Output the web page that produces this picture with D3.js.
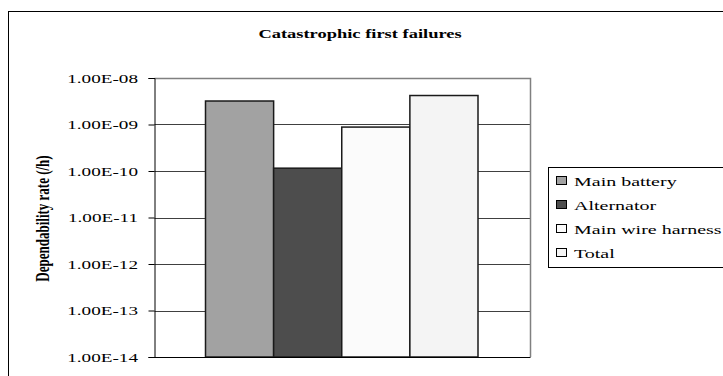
<!DOCTYPE html>
<html>
<head>
<meta charset="utf-8">
<script src="https://cdn.jsdelivr.net/npm/d3@7"></script>
<style>
  html, body { margin: 0; padding: 0; background: #fff; }
  svg { display: block; }
  text { font-family: "Liberation Serif", "Times New Roman", serif; fill: #000; }
</style>
</head>
<body>
<svg id="chart" width="723" height="376"></svg>
<script>
// Failure-rate data (per hour), one bar per contributor
const categories = ["Main battery", "Alternator", "Main wire harness", "Total"];
const rates = [3.2e-9, 1.15e-10, 8.8e-10, 4.2e-9];
const fills = ["#a2a2a2", "#4d4d4d", "#fbfbfb", "#f4f4f4"];
const tickValues = [1e-14, 1e-13, 1e-12, 1e-11, 1e-10, 1e-9, 1e-8];
const tickLabels = ["1.00E-14", "1.00E-13", "1.00E-12", "1.00E-11", "1.00E-10", "1.00E-09", "1.00E-08"];

// the exported chart renders its text horizontally widened
const stretch = 1.42;
const legendStretch = 1.48;

const svg = d3.select("#chart");

// chart frame
svg.append("rect")
  .attr("x", 8.5).attr("y", 11.5)
  .attr("width", 730).attr("height", 380)
  .attr("fill", "#fff").attr("stroke", "#000").attr("stroke-width", 1);

const plot = { left: 154.5, right: 530, top: 78, bottom: 357 };

const y = d3.scaleLog()
  .domain([1e-14, 1e-8])
  .range([plot.bottom, plot.top]);

const x = d3.scaleBand()
  .domain(categories)
  .range([plot.left + 51, plot.right - 52])
  .padding(0);

// title
svg.append("text")
  .attr("transform", `translate(360,38) scale(${stretch},1)`)
  .attr("text-anchor", "middle")
  .attr("font-size", 13).attr("font-weight", "bold")
  .text("Catastrophic first failures");

// horizontal gridlines
svg.append("g")
  .selectAll("line")
  .data(tickValues.slice(1))
  .join("line")
  .attr("x1", plot.left).attr("x2", plot.right)
  .attr("y1", d => Math.round(y(d)) + 0.5).attr("y2", d => Math.round(y(d)) + 0.5)
  .attr("stroke", "#404040").attr("stroke-width", 1);

// plot-area border (top and right)
svg.append("path")
  .attr("d", `M${plot.left},${plot.top + 0.5}H${plot.right + 0.5}V${plot.bottom}`)
  .attr("fill", "none").attr("stroke", "#808080").attr("stroke-width", 1.5);

// bars
svg.append("g")
  .selectAll("rect")
  .data(categories)
  .join("rect")
  .attr("x", d => x(d))
  .attr("y", (d, i) => y(rates[i]))
  .attr("width", x.bandwidth())
  .attr("height", (d, i) => plot.bottom - y(rates[i]))
  .attr("fill", (d, i) => fills[i])
  .attr("stroke", "#1a1a1a").attr("stroke-width", 1.5);

// y axis
const yAxis = d3.axisLeft(y)
  .tickValues(tickValues)
  .tickFormat((d, i) => tickLabels[i])
  .tickSize(6)
  .tickPadding(10);

const gy = svg.append("g")
  .attr("transform", `translate(${plot.left},0)`)
  .call(yAxis);
gy.select(".domain").attr("stroke", "#000").attr("stroke-width", 1);
gy.selectAll(".tick line").attr("stroke", "#000");
gy.selectAll(".tick text")
  .attr("x", 0)
  .attr("transform", `translate(-16.5,0) scale(${stretch},1)`)
  .attr("font-family", "Liberation Serif, Times New Roman, serif")
  .attr("font-size", 13.5).attr("fill", "#000");

// x axis baseline
svg.append("line")
  .attr("x1", plot.left).attr("x2", plot.right + 0.5)
  .attr("y1", plot.bottom + 0.5).attr("y2", plot.bottom + 0.5)
  .attr("stroke", "#000").attr("stroke-width", 1.2);

// y axis title
svg.append("text")
  .attr("transform", `translate(49,${(plot.top + plot.bottom) / 2 + 1}) scale(${stretch},1) rotate(-90)`)
  .attr("text-anchor", "middle")
  .attr("font-size", 13).attr("font-weight", "bold")
  .text("Dependability rate (/h)");

// legend
const legend = svg.append("g");
legend.append("rect")
  .attr("x", 548.5).attr("y", 167.5)
  .attr("width", 200).attr("height", 100)
  .attr("fill", "#fff").attr("stroke", "#000").attr("stroke-width", 1);

const rows = legend.selectAll("g.row")
  .data(categories)
  .join("g")
  .attr("class", "row")
  .attr("transform", (d, i) => `translate(556,${181 + i * 24})`);

rows.append("rect")
  .attr("x", 0.5).attr("y", -4.5)
  .attr("width", 10).attr("height", 8)
  .attr("fill", (d, i) => fills[i])
  .attr("stroke", "#000").attr("stroke-width", 1);

rows.append("text")
  .attr("transform", `translate(18,5) scale(${legendStretch},1)`)
  .attr("font-size", 13.5)
  .text(d => d);
</script>
</body>
</html>
